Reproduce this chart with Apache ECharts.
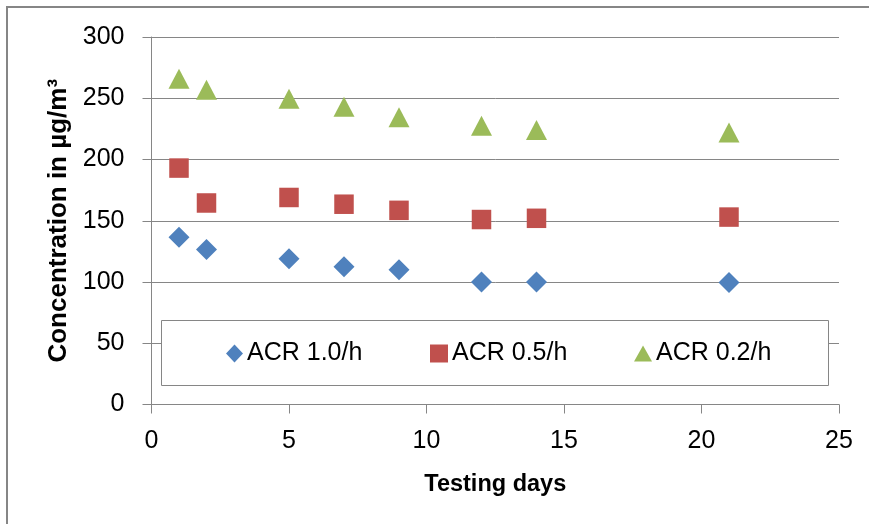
<!DOCTYPE html>
<html>
<head>
<meta charset="utf-8">
<script src="https://cdn.jsdelivr.net/npm/echarts@6/dist/echarts.min.js"></script>
<style>
html,body{margin:0;padding:0;background:#fff;}
#c{width:869px;height:524px;}
</style>
</head>
<body>
<div id="c"></div>
<script>
var days = [1, 2, 5, 7, 9, 12, 14, 21];
var acr10 = [136.5, 126.5, 119, 112.5, 110, 100, 100, 99.5];
var acr05 = [193, 164.5, 169, 163.5, 158.5, 151, 152, 153];
var acr02 = [266, 257, 249.5, 243, 234.5, 227.5, 224, 222];
var seriesNames = ['ACR 1.0/h', 'ACR 0.5/h', 'ACR 0.2/h'];
var xTicks = [0, 5, 10, 15, 20, 25];
var yTicks = [0, 50, 100, 150, 200, 250, 300];

function pairs(xs, ys) { return xs.map(function (x, i) { return [x, ys[i]]; }); }

var FONT = 'Liberation Sans';
var GRAY = '#868686';
var colors = ['#4F81BD', '#C0504D', '#9BBB59'];
var symbols = ['diamond', 'rect', 'triangle'];
var sizes = [[21, 21], [19.5, 19.5], [21, 20]];
var legendIconSizes = [[17, 18], [18, 18], [18, 16]];
var legendLefts = [226, 430, 634];

var chart = echarts.init(document.getElementById('c'), null, {renderer: 'canvas'});
var allData = [acr10, acr05, acr02];

var option = {
  animation: false,
  backgroundColor: '#fff',
  grid: {left: 151.5, top: 37, right: 30, bottom: 119.5, containLabel: false},
  xAxis: {
    type: 'value', min: xTicks[0], max: xTicks[xTicks.length - 1], interval: 5,
    name: 'Testing days', nameLocation: 'middle', nameGap: 68,
    nameTextStyle: {fontFamily: FONT, fontSize: 23.5, fontWeight: 'bold', color: '#000'},
    axisLine: {show: true, onZero: false, lineStyle: {color: GRAY, width: 1}},
    axisTick: {show: true, inside: false, length: 9, lineStyle: {color: GRAY}},
    axisLabel: {fontFamily: FONT, fontSize: 25, color: '#000', margin: 24},
    splitLine: {show: false}
  },
  yAxis: {
    type: 'value', min: yTicks[0], max: yTicks[yTicks.length - 1], interval: 50,
    name: 'Concentration in µg/m³', nameLocation: 'middle', nameGap: 76, nameRotate: 90,
    nameTextStyle: {fontFamily: FONT, fontSize: 26, fontWeight: 'bold', color: '#000'},
    axisLine: {show: true, lineStyle: {color: GRAY, width: 1}},
    axisTick: {show: true, inside: false, length: 9, lineStyle: {color: GRAY}},
    axisLabel: {fontFamily: FONT, fontSize: 25, color: '#000', margin: 27},
    splitLine: {show: true, lineStyle: {color: GRAY, width: 1}}
  },
  legend: seriesNames.map(function (n, i) {
    return {
      data: [{name: n, icon: symbols[i]}],
      left: legendLefts[i], top: 341, padding: 0, z: 10,
      itemWidth: legendIconSizes[i][0], itemHeight: legendIconSizes[i][1], itemGap: 0,
      textStyle: {fontFamily: FONT, fontSize: 25, color: '#000', padding: [0, 0, 0, -1]},
      selectedMode: false
    };
  }),
  graphic: [
    {type: 'rect', z: 2, silent: true,
     shape: {x: 161.5, y: 320.5, width: 667, height: 65},
     style: {fill: '#fff', stroke: GRAY, lineWidth: 1}},
    {type: 'rect', z: 0, silent: true,
     shape: {x: 7, y: 7, width: 950, height: 600},
     style: {fill: 'none', stroke: GRAY, lineWidth: 2}}
  ],
  series: seriesNames.map(function (n, i) {
    return {
      name: n, type: 'scatter', symbol: symbols[i], symbolSize: sizes[i],
      itemStyle: {color: colors[i], opacity: 1},
      data: pairs(days, allData[i]), z: 5
    };
  })
};
chart.setOption(option);
</script>
</body>
</html>
